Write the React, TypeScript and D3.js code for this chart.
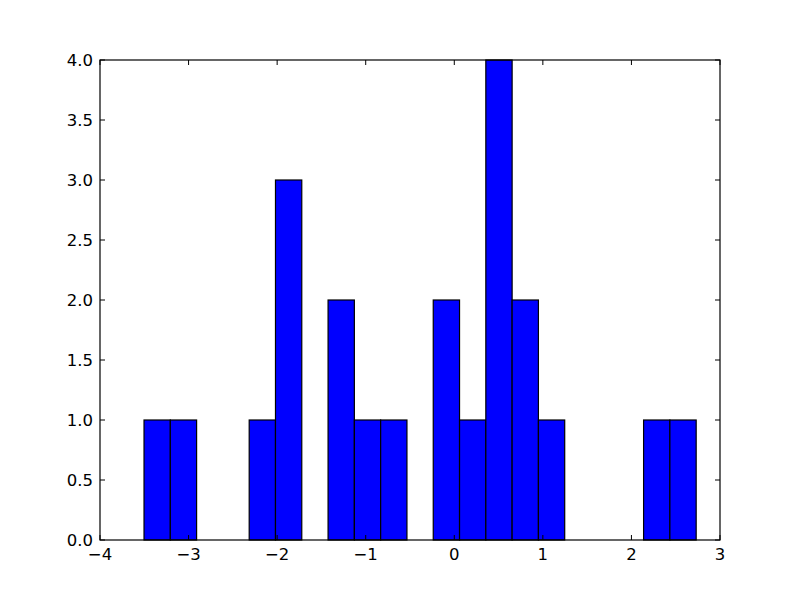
import React from "react";
import * as d3 from "d3";

const binStart = -3.503;
const binEnd = 2.731;
const counts = [1, 1, 0, 0, 1, 3, 0, 2, 1, 1, 0, 2, 1, 4, 2, 1, 0, 0, 0, 1, 1];
const xTicks = [-4, -3, -2, -1, 0, 1, 2, 3];
const yTicks = [0, 0.5, 1, 1.5, 2, 2.5, 3, 3.5, 4];

const W = 800, H = 600;
const L = 100, R = 720, T = 60, B = 540;

export default function App() {
  const x = d3.scaleLinear().domain([-4, 3]).range([L, R]);
  const y = d3.scaleLinear().domain([0, 4]).range([B, T]);
  const bw = (binEnd - binStart) / counts.length;
  const fmtX = (v: number) => (v < 0 ? "\u2212" + Math.abs(v) : String(v));
  const tl = 5;
  return (
    <svg width={W} height={H} style={{ position: "absolute", left: 0, top: 0, background: "#fff" }}
      fontFamily="DejaVu Sans" fontSize={16.5}>
      <rect x={0} y={0} width={W} height={H} fill="#fff" />
      {counts.map((c, i) => {
        const x0 = x(binStart + i * bw), x1 = x(binStart + (i + 1) * bw);
        return c > 0 ? (
          <rect key={i} x={x0} y={y(c)} width={x1 - x0} height={y(0) - y(c)}
            fill="#0000ff" stroke="#000" strokeWidth={1.2} />
        ) : null;
      })}
      <rect x={L} y={T} width={R - L} height={B - T} fill="none" stroke="#000" strokeWidth={1.2} />
      {xTicks.map((t) => (
        <g key={t}>
          <line x1={x(t)} x2={x(t)} y1={B} y2={B - tl} stroke="#000" />
          <line x1={x(t)} x2={x(t)} y1={T} y2={T + tl} stroke="#000" />
          <text x={x(t)} y={B + 20} textAnchor="middle">{fmtX(t)}</text>
        </g>
      ))}
      {yTicks.map((t) => (
        <g key={t}>
          <line x1={L} x2={L + tl} y1={y(t)} y2={y(t)} stroke="#000" />
          <line x1={R} x2={R - tl} y1={y(t)} y2={y(t)} stroke="#000" />
          <text x={L - 7} y={y(t)} textAnchor="end" dominantBaseline="central">{t.toFixed(1)}</text>
        </g>
      ))}
    </svg>
  );
}
